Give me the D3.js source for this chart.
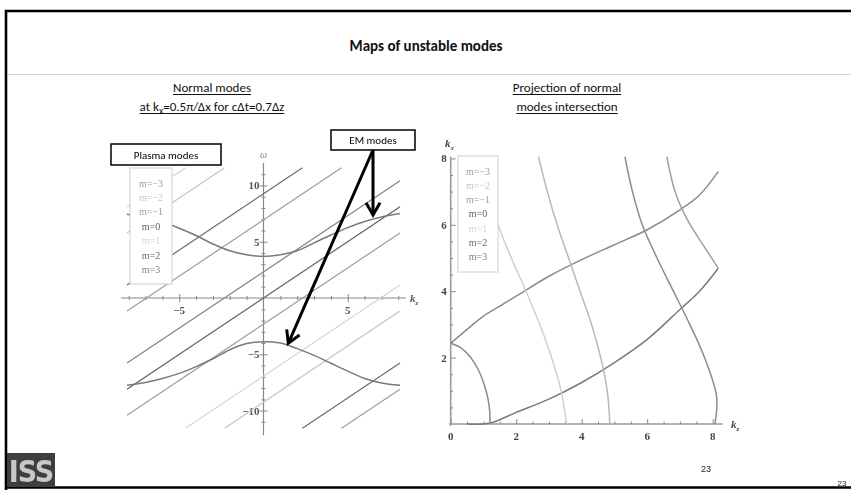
<!DOCTYPE html>
<html><head><meta charset="utf-8">
<script src="https://cdn.jsdelivr.net/npm/d3@7"></script>
<style>body{margin:0;background:#fff}svg{display:block}</style>
</head><body><svg id="c" width="851" height="490"></svg>
<script>
// ---------------- data ----------------
const modeLabels = ["m=−3","m=−2","m=−1","m=0","m=1","m=2","m=3"];
const modeIds = [-3,-2,-1,0,1,2,3];
const modeColors = ["#9c9c9c","#c4c4c4","#9c9c9c","#606060","#d6d6d6","#6c6c6c","#808080"];

// left plot: normal modes (kz, omega)
const kzMajorL = [-5,5];
const kzMinorL = [-8,-7,-6,-5,-4,-3,-2,-1,1,2,3,4,5,6,7,8];
const omMajor = [-10,-5,5,10];
const omMinor = [-11,-10,-9,-8,-7,-6,-5,-4,-3,-2,-1,1,2,3,4,5,6,7,8,9,10,11];
const emKz    = [-8.1,-7,-6,-5,-4,-3,-2,-1,0,1,2,3,4,5,6,7,8.1];
const emUpper = [7.45,7.15,6.75,6.2,5.55,4.8,4.2,3.85,3.7,3.85,4.2,4.9,5.6,6.25,6.8,7.2,7.5];
const emLower = [-7.75,-7.5,-7.15,-6.7,-6.1,-5.4,-4.6,-4.05,-3.88,-4.0,-4.5,-5.1,-5.8,-6.5,-7.15,-7.55,-7.75];
// plasma (beam) mode segments: m, kz start, omega start, kz end, omega end
const segMode = [0, 1, 1, -1, -1, 2, 2, -2, -2, 3, -3];
const segKz0  = [-8.1,-8.1,-4.63, 4.63,-8.1,-8.1, 2.31,-2.31,-8.1,-8.1,-8.1];
const segOm0  = [-8.1, 8.1,-11.57,-11.57,-1.16, 1.16,-11.57,-11.57, 5.78,-5.78,-10.42];
const segKz1  = [ 8.1,-4.63, 8.1, 8.1, 4.63, 2.31, 8.1, 8.1,-2.31, 8.1, 8.1];
const segOm1  = [ 8.1, 11.57, 1.16,-8.1, 11.57, 11.57,-5.78,-1.16, 11.57, 10.42, 5.78];

// right plot: projection of intersections (kz, kx)
const kzMajorR = [0,2,4,6,8];
const kxMajorR = [2,4,6,8];
const minorR = [0.5,1,1.5,2.5,3,3.5,4.5,5,5.5,6.5,7,7.5];
const curveA = [[0.5,0],[1.2,0.03],[2,0.35],[3,0.75],[4,1.25],[5,1.85],[6,2.55],[7,3.45],[7.6,4.0],[8.17,4.69]];
const curveB = [[0,2.43],[0.5,2.85],[1,3.25],[1.5,3.55],[2,3.85],[3,4.45],[4,4.95],[5,5.4],[6,5.85],[7,6.45],[7.6,6.9],[8.17,7.6]];
const curveC1 = [[0,2.43],[0.3,2.3],[0.6,2.02],[0.85,1.62],[1.02,1.2],[1.13,0.8],[1.19,0.4],[1.2,0]];
const curveC2 = [[1.2,7.0],[1.45,6.0],[1.85,5.0],[2.3,4.0],[2.72,3.0],[3.08,2.0],[3.37,1.0],[3.54,0]];
const curveC3 = [[2.68,8.05],[2.95,7.0],[3.25,6.0],[3.6,5.0],[3.95,4.0],[4.3,3.0],[4.58,2.0],[4.78,1.0],[4.86,0]];
const curveC4 = [[5.32,8.05],[5.55,7.0],[5.85,6.0],[6.3,5.0],[6.8,4.0],[7.3,3.0],[7.75,2.0],[8.12,0.82],[8.07,0]];
const curveC5 = [[6.6,8.05],[6.85,7.0],[7.2,6.2],[7.7,5.4],[8.17,4.69]];
const curvesR = [curveA, curveB, curveC1, curveC2, curveC3, curveC4, curveC5];
const curveColorsR = ["#7a7a7a","#8a8a8a","#8a8a8a","#cfcfcf","#b8b8b8","#8c8c8c","#a0a0a0"];

// ---------------- drawing ----------------
const svg = d3.select("#c");
const defs = svg.append("defs");
defs.append("filter").attr("id","soft").append("feGaussianBlur").attr("stdDeviation",0.55);

const sans = "Carlito, Lato, 'Open Sans', sans-serif";
const serif = "'Liberation Serif', 'DejaVu Serif', serif";

// slide frame
svg.append("line").attr("x1",6).attr("y1",10).attr("x2",6).attr("y2",490).attr("stroke","#000").attr("stroke-width",2.6);
svg.append("line").attr("x1",5).attr("y1",11).attr("x2",851).attr("y2",11).attr("stroke","#000").attr("stroke-width",2.6);
svg.append("line").attr("x1",5).attr("y1",487.5).attr("x2",851).attr("y2",487.5).attr("stroke","#000").attr("stroke-width",2.6);
svg.append("line").attr("x1",7).attr("y1",74.5).attr("x2",851).attr("y2",74.5).attr("stroke","#d4d4d4").attr("stroke-width",1);

// title
svg.append("text").attr("x",426).attr("y",51).attr("text-anchor","middle")
  .attr("font-family",sans).attr("font-weight","bold").attr("font-size",15).attr("fill","#111")
  .text("Maps of unstable modes");

function underlined(x, y, build) {
  const t = svg.append("text").attr("x",x).attr("y",y).attr("text-anchor","middle")
    .attr("font-family",sans).attr("font-size",13).attr("fill","#111");
  build(t);
  const bb = t.node().getBBox();
  svg.append("line").attr("x1",bb.x).attr("x2",bb.x+bb.width).attr("y1",y+2.5).attr("y2",y+2.5)
    .attr("stroke","#111").attr("stroke-width",1);
}
underlined(212, 92, t => t.text("Normal modes"));
underlined(212, 111, t => {
  t.append("tspan").text("at k");
  t.append("tspan").attr("dy",3).attr("font-size",10).text("x");
  t.append("tspan").attr("dy",-3).text("=0.5π/Δx for cΔt=0.7Δz");
});
underlined(567, 92, t => t.text("Projection of normal"));
underlined(567, 111, t => t.text("modes intersection"));

// ---------- left plot ----------
const xL = d3.scaleLinear().domain([-8.1,8.1]).range([127,400]);
const yL = d3.scaleLinear().domain([-11.57,11.57]).range([428.2,167.8]);
const gL = svg.append("g").attr("filter","url(#soft)");

// axes
const axX = gL.append("g").attr("transform",`translate(0,${yL(0)})`)
  .call(d3.axisBottom(xL).tickValues(kzMinorL).tickSize(0).tickFormat(""));
axX.select(".domain").attr("d",`M${xL(-8.45)},0H${xL(8.45)}`).attr("stroke","#888").attr("stroke-width",1.2);
axX.selectAll(".tick line").attr("y1",-2).attr("y2",2).attr("stroke","#888");
axX.selectAll(".tick").filter(d=>kzMajorL.includes(d)).select("line").attr("y1",-4).attr("y2",4);
const axY = gL.append("g").attr("transform",`translate(${xL(0)},0)`)
  .call(d3.axisLeft(yL).tickValues(omMinor).tickSize(0).tickFormat(""));
axY.select(".domain").attr("d",`M0,${yL(12)}V${yL(-12.2)}`).attr("stroke","#888").attr("stroke-width",1.2);
axY.selectAll(".tick line").attr("x1",-2).attr("x2",2).attr("stroke","#888");
axY.selectAll(".tick").filter(d=>omMajor.includes(d)).select("line").attr("x1",-4).attr("x2",4);

gL.selectAll("text.xl").data(kzMajorL).join("text").attr("class","xl")
  .attr("x",d=>xL(d)).attr("y",yL(0)+16).attr("text-anchor","middle")
  .attr("font-family",serif).attr("font-weight","bold").attr("font-size",11).attr("fill","#555")
  .text(d=>d<0?"−"+Math.abs(d):d);
gL.selectAll("text.yl").data(omMajor).join("text").attr("class","yl")
  .attr("x",xL(0)-4).attr("y",d=>yL(d)+4).attr("text-anchor","end")
  .attr("font-family",serif).attr("font-weight","bold").attr("font-size",11).attr("fill","#555")
  .text(d=>d<0?"−"+Math.abs(d):d);
gL.append("text").attr("x",xL(0)).attr("y",158).attr("text-anchor","middle")
  .attr("font-family",serif).attr("font-style","italic").attr("font-size",10).attr("fill","#888").text("ω");
const kzlab = gL.append("text").attr("x",410).attr("y",yL(0)+4)
  .attr("font-family",serif).attr("font-style","italic").attr("font-weight","bold").attr("font-size",11).attr("fill","#555");
kzlab.append("tspan").text("k"); kzlab.append("tspan").attr("dy",3).attr("font-size",7).text("z");

// plasma mode lines
const segIdx = d3.range(segMode.length);
gL.selectAll("line.pm").data(segIdx).join("line").attr("class","pm")
  .attr("x1",i=>xL(segKz0[i])).attr("y1",i=>yL(segOm0[i]))
  .attr("x2",i=>xL(segKz1[i])).attr("y2",i=>yL(segOm1[i]))
  .attr("stroke",i=>modeColors[modeIds.indexOf(segMode[i])]).attr("stroke-width",1.2);

// EM modes
const lineL = d3.line().x(d=>xL(d[0])).y(d=>yL(d[1])).curve(d3.curveCatmullRom);
[emUpper, emLower].forEach(arr => {
  gL.append("path").attr("d", lineL(emKz.map((k,i)=>[k,arr[i]])))
    .attr("fill","none").attr("stroke","#7a7a7a").attr("stroke-width",1.5);
});

// legend (left)
function legend(g, x, y, w, h, y0, dy) {
  g.append("rect").attr("x",x).attr("y",y).attr("width",w).attr("height",h)
    .attr("fill","#fff").attr("stroke","#d0d0d0").attr("stroke-width",1);
  g.selectAll(null).data(modeLabels).join("text")
    .attr("x",x+w/2).attr("y",(d,i)=>y0+i*dy+3.5).attr("text-anchor","middle")
    .attr("font-family",serif).attr("font-size",10).attr("fill",(d,i)=>modeColors[i]).text(d=>d);
}
legend(gL, 130, 168, 42, 116, 183, 14.4);

// ---------- right plot ----------
const xR = d3.scaleLinear().domain([0,8]).range([450.7,712.7]);
const yR = d3.scaleLinear().domain([0,8]).range([424,158.4]);
const gR = svg.append("g").attr("filter","url(#soft)");

const axXR = gR.append("g").attr("transform",`translate(0,${yR(0)})`)
  .call(d3.axisBottom(xR).tickValues(minorR.concat(kzMajorR)).tickSize(0).tickFormat(""));
axXR.select(".domain").attr("d",`M${xR(-0.05)},0H${xR(8.3)}`).attr("stroke","#999").attr("stroke-width",1.6);
axXR.selectAll(".tick line").attr("y1",0).attr("y2",-2.5).attr("stroke","#888");
axXR.selectAll(".tick").filter(d=>kzMajorR.includes(d)).select("line").attr("y2",-5);
const axYR = gR.append("g").attr("transform",`translate(${xR(0)},0)`)
  .call(d3.axisLeft(yR).tickValues(minorR.concat(kxMajorR)).tickSize(0).tickFormat(""));
axYR.select(".domain").attr("d",`M0,${yR(8.05)}V${yR(-0.05)}`).attr("stroke","#999").attr("stroke-width",1.6);
axYR.selectAll(".tick line").attr("x1",0).attr("x2",2.5).attr("stroke","#888");
axYR.selectAll(".tick").filter(d=>kxMajorR.includes(d)).select("line").attr("x2",5);

gR.selectAll("text.xr").data(kzMajorR).join("text").attr("class","xr")
  .attr("x",d=>xR(d)).attr("y",yR(0)+16).attr("text-anchor","middle")
  .attr("font-family",serif).attr("font-weight","bold").attr("font-size",11).attr("fill","#444").text(d=>d);
gR.selectAll("text.yr").data(kxMajorR).join("text").attr("class","yr")
  .attr("x",xR(0)-4).attr("y",d=>yR(d)+4).attr("text-anchor","end")
  .attr("font-family",serif).attr("font-weight","bold").attr("font-size",11).attr("fill","#444").text(d=>d);
const kxlab = gR.append("text").attr("x",445).attr("y",147)
  .attr("font-family",serif).attr("font-style","italic").attr("font-weight","bold").attr("font-size",11).attr("fill","#444");
kxlab.append("tspan").text("k"); kxlab.append("tspan").attr("dy",3).attr("font-size",7).text("x");
const kzlabR = gR.append("text").attr("x",731).attr("y",yR(0)+4)
  .attr("font-family",serif).attr("font-style","italic").attr("font-weight","bold").attr("font-size",11).attr("fill","#444");
kzlabR.append("tspan").text("k"); kzlabR.append("tspan").attr("dy",3).attr("font-size",7).text("z");

const lineR = d3.line().x(d=>xR(d[0])).y(d=>yR(d[1])).curve(d3.curveCatmullRom);
gR.selectAll("path.cr").data(curvesR).join("path").attr("class","cr")
  .attr("d",lineR).attr("fill","none")
  .attr("stroke",(d,i)=>curveColorsR[i]).attr("stroke-width",1.5);
legend(gR, 458, 156, 40, 116, 171, 14.3);

// ---------- annotations ----------
function box(x, y, w, h, label) {
  svg.append("rect").attr("x",x).attr("y",y).attr("width",w).attr("height",h)
    .attr("fill","#fff").attr("stroke","#000").attr("stroke-width",1.5);
  svg.append("text").attr("x",x+w/2).attr("y",y+h/2+4).attr("text-anchor","middle")
    .attr("font-family",sans).attr("font-size",11).attr("fill","#000").text(label);
}
box(111, 144, 110, 21, "Plasma modes");
box(331, 130, 84, 20, "EM modes");

const arrowStart = [373, 150];
const arrowTips = [[6.5, 7.38], [1.47, -4.03]];
arrowTips.forEach(t => {
  const tx = xL(t[0]), ty = yL(t[1]);
  svg.append("line").attr("x1",arrowStart[0]).attr("y1",arrowStart[1]).attr("x2",tx).attr("y2",ty)
    .attr("stroke","#000").attr("stroke-width",3);
  const a = Math.atan2(arrowStart[1]-ty, arrowStart[0]-tx);
  const L = 14, s = Math.PI/6;
  const p = [[tx+L*Math.cos(a+s), ty+L*Math.sin(a+s)],[tx,ty],[tx+L*Math.cos(a-s), ty+L*Math.sin(a-s)]];
  svg.append("path").attr("d", d3.line()(p)).attr("fill","none").attr("stroke","#000")
    .attr("stroke-width",3).attr("stroke-linejoin","miter");
});

// logo and page numbers
svg.append("rect").attr("x",7).attr("y",453).attr("width",48).attr("height",34).attr("fill","#3e3e3e");
svg.append("text").attr("x",31).attr("y",482).attr("text-anchor","middle")
  .attr("font-family","'Liberation Sans Narrow', 'DejaVu Sans Condensed', sans-serif")
  .attr("font-weight","bold").attr("font-size",30).attr("fill","#c8c8c8").attr("letter-spacing",-1).text("ISS");
svg.append("text").attr("x",706).attr("y",472).attr("text-anchor","middle")
  .attr("font-family","'Liberation Sans', Arial, sans-serif").attr("font-size",9).attr("fill","#222").text("23");
svg.append("text").attr("x",842).attr("y",486).attr("text-anchor","middle")
  .attr("font-family","'Liberation Sans', Arial, sans-serif").attr("font-size",8).attr("fill","#222").text("23");
</script></body></html>
